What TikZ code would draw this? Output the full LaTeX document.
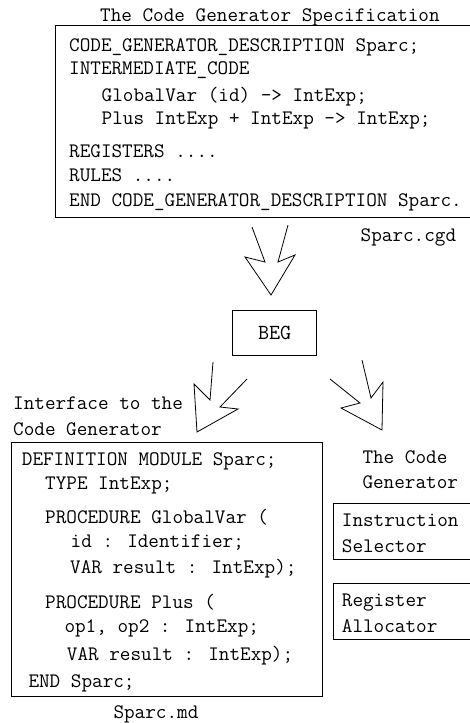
\documentclass[tikz,border=0pt]{standalone}
\begin{document}
\begin{tikzpicture}[x=1pt,y=-1pt,
  txt/.style={anchor=base west,inner sep=0pt,font=\ttfamily\fontsize{20.6}{22}\selectfont},
  frame/.style={draw,line width=0.8pt},
  bigarrow/.style={draw,line width=0.8pt,line join=miter}]
\useasboundingbox (0,0) rectangle (470,723);
% top specification
\node[txt] (spect) at (100,21) {The Code Generator Specification};
\draw[frame] (55,25) -- (475,25) (55,25) -- (55,217) -- (475,217);
\node[txt] (s1) at (69,51) {CODE\_GENERATOR\_DESCRIPTION Sparc;};
\node[txt] (s2) at (69,74.5) {INTERMEDIATE\_CODE};
\node[txt] (s3) at (101.5,101) {GlobalVar (id) -> IntExp;};
\node[txt] (s4) at (101.5,124.5) {Plus IntExp + IntExp -> IntExp;};
\node[txt] (s5) at (69,157.5) {REGISTERS ....};
\node[txt] (s6) at (69,181) {RULES ....};
\node[txt] (s7) at (69,206) {END CODE\_GENERATOR\_DESCRIPTION Sparc.};
\node[txt] (cgd) at (360.5,241) {Sparc.cgd};
% top arrow
\draw[bigarrow] (252,227) -- (265,262) -- (245,257) -- (271,295) -- (295,255) -- (278,262) -- (288,225);
% BEG
\node[draw,line width=0.8pt,minimum width=84pt,minimum height=45pt,inner sep=0pt,font=\ttfamily\fontsize{21.5}{22}\selectfont] (beg) at (274.7,332.5) {BEG};
% lower arrows
\draw[bigarrow] (213,362) -- (210,400) -- (194,384) -- (197,432) -- (238,409) -- (220,407) -- (247,379);
\draw[bigarrow] (362,360) -- (371,398) -- (383,382) -- (382,430) -- (341,408) -- (360,403) -- (330,379);
% interface
\node[txt] (if1) at (13,409.5) {Interface to the};
\node[txt] (if2) at (13,435) {Code Generator};
\draw[frame] (11,442.3) rectangle (322.7,696.7);
\node[txt] (m1) at (21.7,465) {DEFINITION MODULE Sparc;};
\node[txt] (m2) at (45,489) {TYPE IntExp;};
\node[txt] (m3) at (45,523.7) {PROCEDURE GlobalVar (};
\node[txt] (m4) at (70.5,547) {id : Identifier;};
\node[txt] (m5) at (70,573.7) {VAR result : IntExp);};
\node[txt] (m6) at (45,608.7) {PROCEDURE Plus (};
\node[txt] (m7) at (64.3,632.7) {op1, op2 : IntExp;};
\node[txt] (m8) at (66.7,660) {VAR result : IntExp);};
\node[txt] (m9) at (28.3,687.7) {END Sparc;};
\node[txt] (md) at (113.3,718.3) {Sparc.md};
% code generator
\node[txt] (cg1) at (362.3,463.7) {The Code};
\node[txt] (cg2) at (362.3,488.7) {Generator};
\draw[frame] (475,503.3) -- (333.3,503.3) -- (333.3,559) -- (475,559);
\node[txt] (is1) at (341.7,526.7) {Instruction};
\node[txt] (is2) at (341.7,552.7) {Selector};
\draw[frame] (475,583.3) -- (333.3,583.3) -- (333.3,639) -- (475,639);
\node[txt] (ra1) at (341.7,606.7) {Register};
\node[txt] (ra2) at (341.7,632.7) {Allocator};
\end{tikzpicture}
\end{document}
